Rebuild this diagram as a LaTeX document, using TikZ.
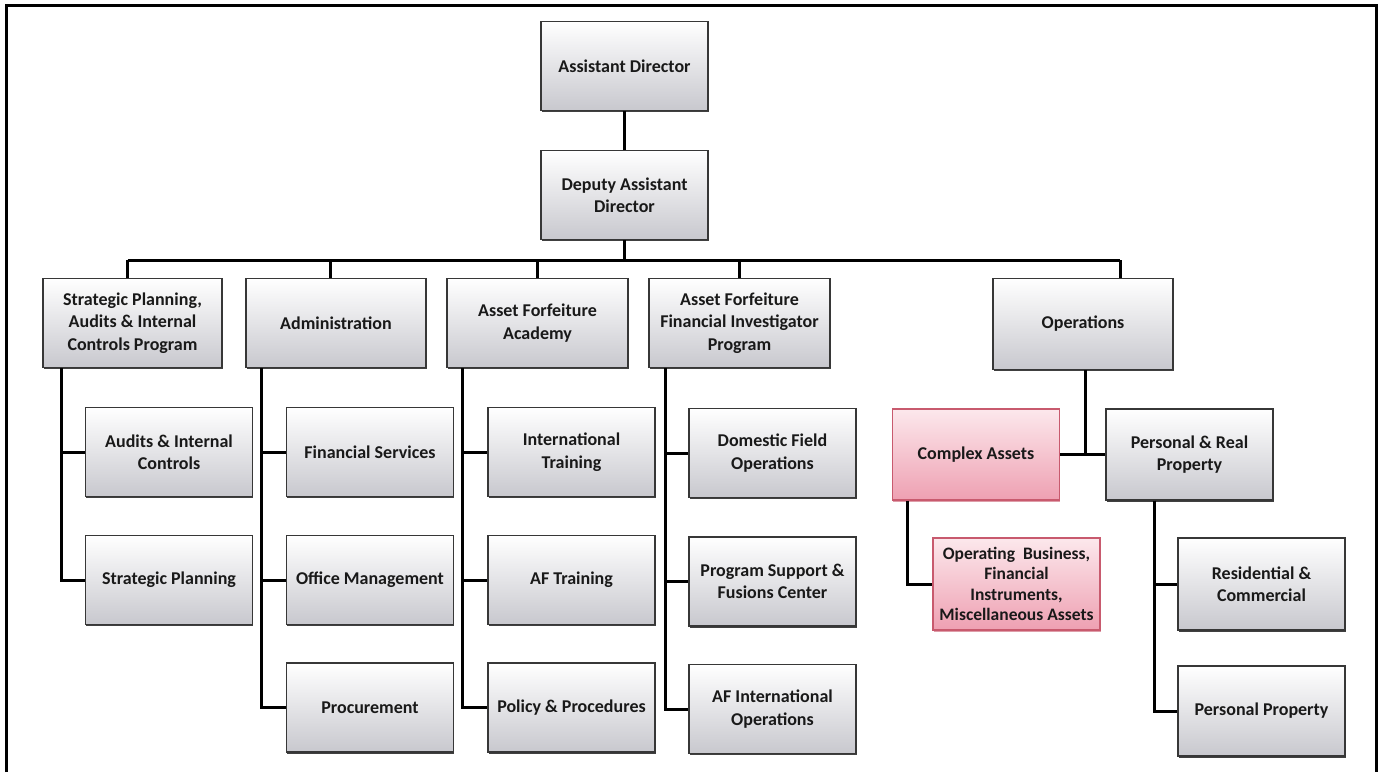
\documentclass[tikz,border=0pt]{standalone}
\usepackage{fontspec}
\setmainfont{Carlito}
\usetikzlibrary{shadows}
\definecolor{boxedge}{RGB}{55,55,55}
\definecolor{boxbot}{RGB}{200,200,206}
\definecolor{pinktop}{RGB}{252,232,236}
\definecolor{pinkbot}{RGB}{238,160,178}
\definecolor{pinkedge}{RGB}{200,90,110}
\tikzset{
  orgbox/.style={draw=boxedge, line width=1.3pt, top color=white, bottom color=boxbot,
    minimum width=167pt, minimum height=89pt, align=center, inner sep=1pt,
    font=\bfseries\fontsize{18}{22.5}\selectfont, text=black!90,
    drop shadow={shadow xshift=0.6pt, shadow yshift=-1.6pt, fill=black!75, opacity=1}},
  pinkbox/.style={orgbox, draw=pinkedge, top color=pinktop, bottom color=pinkbot,
    drop shadow={shadow xshift=0.6pt, shadow yshift=-1.6pt, fill=pinkedge!60, opacity=1}},
  conn/.style={line width=3pt, black},
  frameline/.style={line width=3pt, black}
}
\begin{document}
\begin{tikzpicture}[x=1pt,y=-1pt]
\useasboundingbox (0,0) rectangle (1379,772);
% frame
\coordinate (f1) at (6,772);
\coordinate (f2) at (6,5);
\coordinate (f3) at (1376,5);
\coordinate (f4) at (1376,772);
\draw[frameline] (f1) -- (f2) -- (f3) -- (f4);

% top
\node[orgbox] (ad) at (624.5,66) {Assistant Director};
\node[orgbox] (dad) at (624.5,195) {Deputy Assistant\\Director};

% level 2
\node[orgbox, minimum width=179pt] (sp) at (132.5,323) {Strategic Planning,\\Audits \& Internal\\Controls Program};
\node[orgbox, minimum width=180pt] (adm) at (336,323) {Administration};
\node[orgbox, minimum width=181pt] (afa) at (537.5,323) {Asset Forfeiture\\Academy};
\node[orgbox, minimum width=181pt] (afi) at (739.5,323) {Asset Forfeiture\\Financial Investigator\\Program};
\node[orgbox, minimum width=180pt, minimum height=91pt] (ops) at (1083,324) {Operations};

% column 1
\node[orgbox] (aic) at (169,452) {Audits \& Internal\\Controls};
\node[orgbox] (spl) at (169,580) {Strategic Planning};
% column 2
\node[orgbox] (fs) at (370,452) {Financial Services};
\node[orgbox] (om) at (370,580) {Office Management};
\node[orgbox] (pr) at (370,707.5) {Procurement};
% column 3
\node[orgbox] (it) at (571.5,452) {International\\Training};
\node[orgbox] (aft) at (571.5,580) {AF Training};
\node[orgbox] (pol) at (571.5,707.5) {Policy \& Procedures};
% column 4
\node[orgbox] (dfo) at (772.5,453) {Domestic Field\\Operations};
\node[orgbox] (psf) at (772.5,581.5) {Program Support \&\\Fusions Center};
\node[orgbox] (afio) at (772.5,709) {AF International\\Operations};
% operations
\node[pinkbox, minimum height=91pt] (ca) at (976,454.5) {Complex Assets};
\node[pinkbox, minimum height=92pt, font=\bfseries\fontsize{17.5}{20.5}\selectfont] (ob) at (1016.5,584) {Operating\ \ Business,\\Financial\\Instruments,\\Miscellaneous Assets};
\node[orgbox, minimum height=91pt] (prp) at (1189.5,454.5) {Personal \& Real\\Property};
\node[orgbox, minimum height=92pt] (rc) at (1261.5,584) {Residential \&\\Commercial};
\node[orgbox, minimum height=90pt] (pp) at (1261.5,711) {Personal Property};

% connectors top
\draw[conn] (ad) -- (dad);
\coordinate (busl) at (127.5,260);
\coordinate (busr) at (1120,260);
\draw[conn] (dad.south) -- (dad.south |- busl);
\draw[conn] (busl) -- (busr);
\draw[conn] (busl) -- (busl |- sp.north);
\draw[conn] (adm.north |- busl) ++(-6,0) -- ++(0,18);
\draw[conn] (afa.north |- busl) -- (afa.north);
\draw[conn] (afi.north |- busl) -- (afi.north);
\draw[conn] (busr) -- (busr |- ops.north);

% column connectors
\draw[conn] ([xshift=19pt]sp.south west) |- (aic.west);
\draw[conn] ([xshift=19pt]sp.south west) |- (spl.west);
\draw[conn] ([xshift=16pt]adm.south west) |- (fs.west);
\draw[conn] ([xshift=16pt]adm.south west) |- (om.west);
\draw[conn] ([xshift=16pt]adm.south west) |- (pr.west);
\draw[conn] ([xshift=16pt]afa.south west) |- (it.west);
\draw[conn] ([xshift=16pt]afa.south west) |- (aft.west);
\draw[conn] ([xshift=16pt]afa.south west) |- (pol.west);
\draw[conn] ([xshift=17pt]afi.south west) |- (dfo.west);
\draw[conn] ([xshift=17pt]afi.south west) |- (psf.west);
\draw[conn] ([xshift=17pt]afi.south west) |- (afio.west);

% operations connectors
\draw[conn] ([xshift=2pt]ops.south) -- ([xshift=2pt]ops.south |- ca.east);
\draw[conn] (ca.east) -- (prp.west);
\draw[conn] ([xshift=16pt]ca.south west) |- (ob.west);
\draw[conn] ([xshift=49pt]prp.south west) |- (rc.west);
\draw[conn] ([xshift=49pt]prp.south west) |- (pp.west);
\end{tikzpicture}
\end{document}
